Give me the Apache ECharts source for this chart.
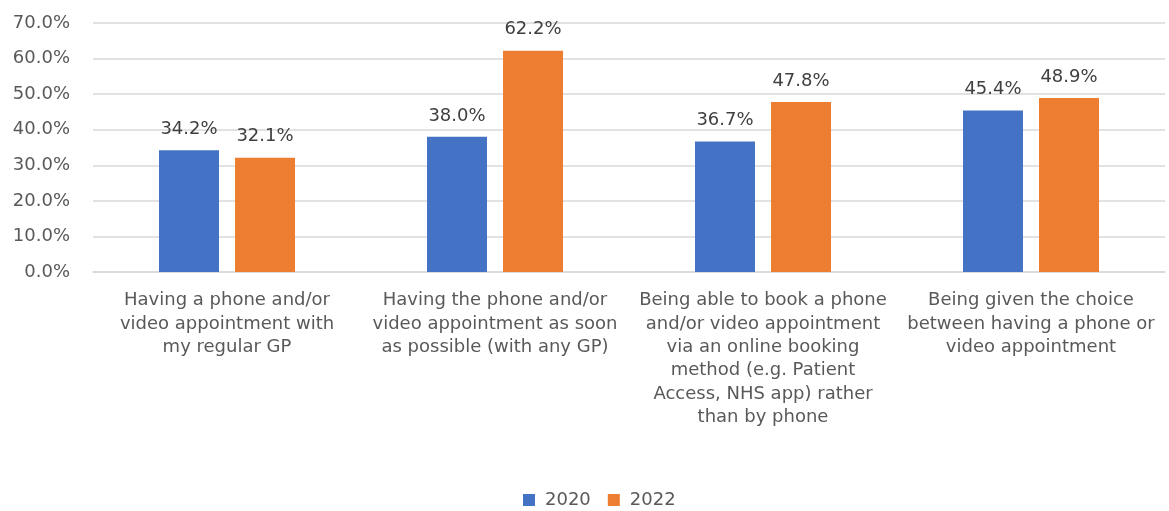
<!DOCTYPE html>
<html>
<head>
<meta charset="utf-8">
<script src="https://cdn.jsdelivr.net/npm/echarts@6/dist/echarts.min.js"></script>
<style>
  html, body { margin: 0; padding: 0; background: #ffffff; }
  #chart { width: 1169px; height: 511px; }
</style>
</head>
<body>
<div id="chart"></div>
<script>
// Preferences for phone / video GP appointments, 2020 vs 2022
const categories = [
  'Having a phone and/or\nvideo appointment with\nmy regular GP',
  'Having the phone and/or\nvideo appointment as soon\nas possible (with any GP)',
  'Being able to book a phone\nand/or video appointment\nvia an online booking\nmethod (e.g. Patient\nAccess, NHS app) rather\nthan by phone',
  'Being given the choice\nbetween having a phone or\nvideo appointment'
];
const values2020 = [34.2, 38.0, 36.7, 45.4];
const values2022 = [32.1, 62.2, 47.8, 48.9];
const seriesNames = ['2020', '2022'];

const FONT = '"DejaVu Sans", "Liberation Sans", sans-serif';
const TEXT = '#595959';

const chart = echarts.init(document.getElementById('chart'), null, { renderer: 'canvas' });

const labelCfg = {
  show: true,
  position: 'top',
  distance: 12,
  color: '#404040',
  fontFamily: FONT,
  fontSize: 18,
  formatter: p => p.value.toFixed(1) + '%'
};

chart.setOption({
  animation: false,
  grid: { left: 93, right: 4, top: 23, bottom: 239, containLabel: false },
  legend: {
    data: seriesNames,
    top: 486,
    left: 518,
    itemWidth: 12,
    itemHeight: 12,
    itemGap: 17,
    icon: 'rect',
    textStyle: { color: TEXT, fontFamily: FONT, fontSize: 18, padding: [0, 0, 0, 5] }
  },
  xAxis: {
    type: 'category',
    data: categories,
    axisLine: { lineStyle: { color: '#d9d9d9', width: 1.5 } },
    axisTick: { show: false },
    axisLabel: {
      interval: 0,
      color: TEXT,
      fontFamily: FONT,
      fontSize: 18,
      lineHeight: 23.3,
      margin: 17
    }
  },
  yAxis: {
    type: 'value',
    min: 0,
    max: 70,
    interval: 10,
    axisLine: { show: false },
    axisTick: { show: false },
    splitLine: { lineStyle: { color: '#d9d9d9', width: 1.5 } },
    axisLabel: {
      color: TEXT,
      fontFamily: FONT,
      fontSize: 18,
      margin: 23,
      formatter: v => v.toFixed(1) + '%'
    }
  },
  series: [
    {
      name: seriesNames[0],
      type: 'bar',
      data: values2020,
      barWidth: 60,
      barGap: '26.7%',
      itemStyle: { color: '#4472c4' },
      label: labelCfg
    },
    {
      name: seriesNames[1],
      type: 'bar',
      data: values2022,
      barWidth: 60,
      barGap: '26.7%',
      itemStyle: { color: '#ed7d31' },
      label: labelCfg
    }
  ]
});
</script>
</body>
</html>
